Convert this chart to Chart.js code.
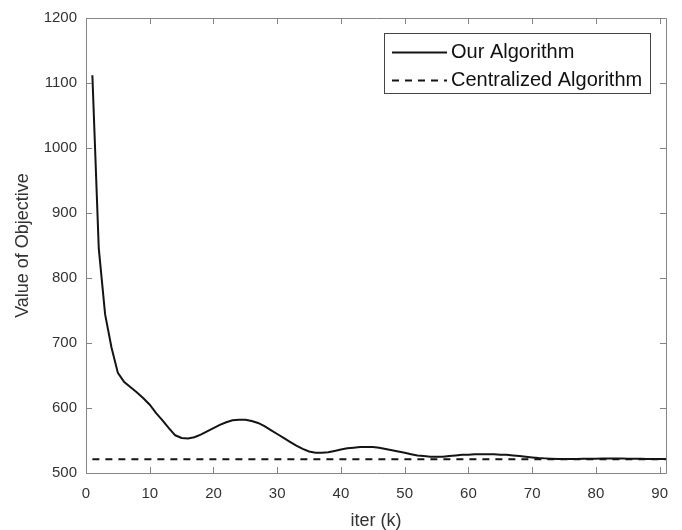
<!DOCTYPE html>
<html>
<head>
<meta charset="utf-8">
<script src="https://cdn.jsdelivr.net/npm/chart.js@4.4.1/dist/chart.umd.min.js"></script>
<style>
  html, body { margin: 0; padding: 0; background: #fff; }
  #wrap { width: 682px; height: 530px; }
</style>
</head>
<body>
<div id="wrap"><canvas id="myChart"></canvas></div>
<script>
// iteration index (x categories)
const iterK = Array.from({ length: 91 }, (_, i) => i + 1);

// objective value of our algorithm
const ourAlgorithm = [
  1112, 846, 744, 693, 654, 640, 632, 624, 615, 605,
  592, 581, 569, 558, 554, 553, 555, 559, 564, 569,
  574, 578, 581, 582, 582, 580, 577, 572, 566, 560,
  554, 548, 542, 537, 533, 531, 531, 532, 534, 536,
  538, 539, 540, 540, 540, 539, 537, 535, 533, 531,
  529, 527, 526, 525, 525, 525, 526, 527, 528, 528,
  529, 529, 529, 529, 528, 528, 527, 526, 525, 524,
  523, 522.5, 522, 521.5, 521.5, 521.5, 521.5, 522, 522, 522,
  522.5, 522.5, 522.5, 522.5, 522, 522, 522, 521.5, 521.5, 521.5,
  521.5
];

// centralized optimum (flat)
const centralizedValue = 521;
const centralized = iterK.map(() => centralizedValue);

const xTicks = [0, 10, 20, 30, 40, 50, 60, 70, 80, 90];
const yTicks = [500, 600, 700, 800, 900, 1000, 1100, 1200];

const axisColor = "#858585";
const textColor = "#333333";
const fontFamily = "'Liberation Sans', Arial, Helvetica, sans-serif";

// box around the axes + inward ticks, MATLAB style
const boxPlugin = {
  id: "boxPlugin",
  afterDatasetsDraw(chart) {
    const { ctx, chartArea: a, scales } = chart;
    ctx.save();
    ctx.strokeStyle = axisColor;
    ctx.lineWidth = 1;
    ctx.beginPath();
    ctx.rect(Math.round(a.left) + 0.5, Math.round(a.top) + 0.5,
      Math.round(a.right - a.left), Math.round(a.bottom - a.top));
    ctx.stroke();
    const len = 6;
    ctx.beginPath();
    xTicks.forEach(v => {
      const px = Math.round(scales.x.getPixelForValue(v)) + 0.5;
      ctx.moveTo(px, a.bottom); ctx.lineTo(px, a.bottom - len);
      ctx.moveTo(px, a.top); ctx.lineTo(px, a.top + len);
    });
    yTicks.forEach(v => {
      const py = Math.round(scales.y.getPixelForValue(v)) + 0.5;
      ctx.moveTo(a.left, py); ctx.lineTo(a.left + len, py);
      ctx.moveTo(a.right, py); ctx.lineTo(a.right - len, py);
    });
    ctx.stroke();
    ctx.restore();
  },
  afterDraw(chart) {
    // legend box in upper right
    const { ctx } = chart;
    const bx = 384, by = 33, bw = 266, bh = 60;
    ctx.save();
    ctx.fillStyle = "#fff";
    ctx.fillRect(bx, by, bw, bh);
    ctx.strokeStyle = "#444";
    ctx.lineWidth = 1;
    ctx.strokeRect(bx + 0.5, by + 0.5, bw, bh);
    const rows = [52.5, 80.5];
    chart.data.datasets.forEach((ds, i) => {
      const y = rows[i];
      ctx.strokeStyle = ds.borderColor;
      ctx.lineWidth = ds.borderWidth;
      ctx.setLineDash(ds.borderDash || []);
      ctx.beginPath();
      ctx.moveTo(392, y);
      ctx.lineTo(447, y);
      ctx.stroke();
      ctx.setLineDash([]);
      ctx.fillStyle = "#111";
      ctx.font = "20px " + fontFamily;
      ctx.textBaseline = "middle";
      ctx.fillText(ds.label, 451, y);
    });
    ctx.restore();
  }
};

const ctx = document.getElementById("myChart").getContext("2d");

const myChart = new Chart(ctx, {
  type: "line",
  data: {
    datasets: [
      {
        label: "Our Algorithm",
        data: iterK.map((k, i) => ({ x: k, y: ourAlgorithm[i] })),
        borderColor: "#141414",
        borderWidth: 2,
        pointRadius: 0,
        tension: 0,
        fill: false
      },
      {
        label: "Centralized Algorithm",
        data: iterK.map((k, i) => ({ x: k, y: centralized[i] })),
        borderColor: "#141414",
        borderWidth: 2,
        borderDash: [7, 6],
        pointRadius: 0,
        tension: 0,
        fill: false
      }
    ]
  },
  options: {
    responsive: true,
    maintainAspectRatio: false,
    animation: false,
    layout: { padding: { top: 15, right: 16, left: 0, bottom: 0 } },
    scales: {
      x: {
        type: "linear",
        min: 0,
        max: 91,
        afterBuildTicks: (scale) => { scale.ticks = xTicks.map(v => ({ value: v })); },
        afterFit: (scale) => { scale.height = 57; },
        grid: { display: false, drawTicks: false },
        border: { display: false },
        ticks: {
          padding: 12,
          color: textColor,
          font: { family: fontFamily, size: 15 },
          maxRotation: 0,
          callback: (v) => String(v)
        },
        title: {
          display: true,
          text: "iter (k)",
          color: textColor,
          font: { family: fontFamily, size: 18, lineHeight: 1 },
          padding: { top: 0, bottom: 0 }
        }
      },
      y: {
        min: 500,
        max: 1200,
        afterBuildTicks: (scale) => { scale.ticks = yTicks.map(v => ({ value: v })); },
        afterFit: (scale) => { scale.width = 86; },
        grid: { display: false, drawTicks: false },
        border: { display: false },
        ticks: {
          padding: 9,
          color: textColor,
          font: { family: fontFamily, size: 15 },
          callback: (v) => String(v)
        },
        title: {
          display: true,
          text: "Value of Objective",
          color: textColor,
          font: { family: fontFamily, size: 18, lineHeight: 1 },
          padding: { top: 14, bottom: 0 }
        }
      }
    },
    plugins: {
      legend: { display: false },
      tooltip: { enabled: false }
    }
  },
  plugins: [boxPlugin]
});
</script>
</body>
</html>
